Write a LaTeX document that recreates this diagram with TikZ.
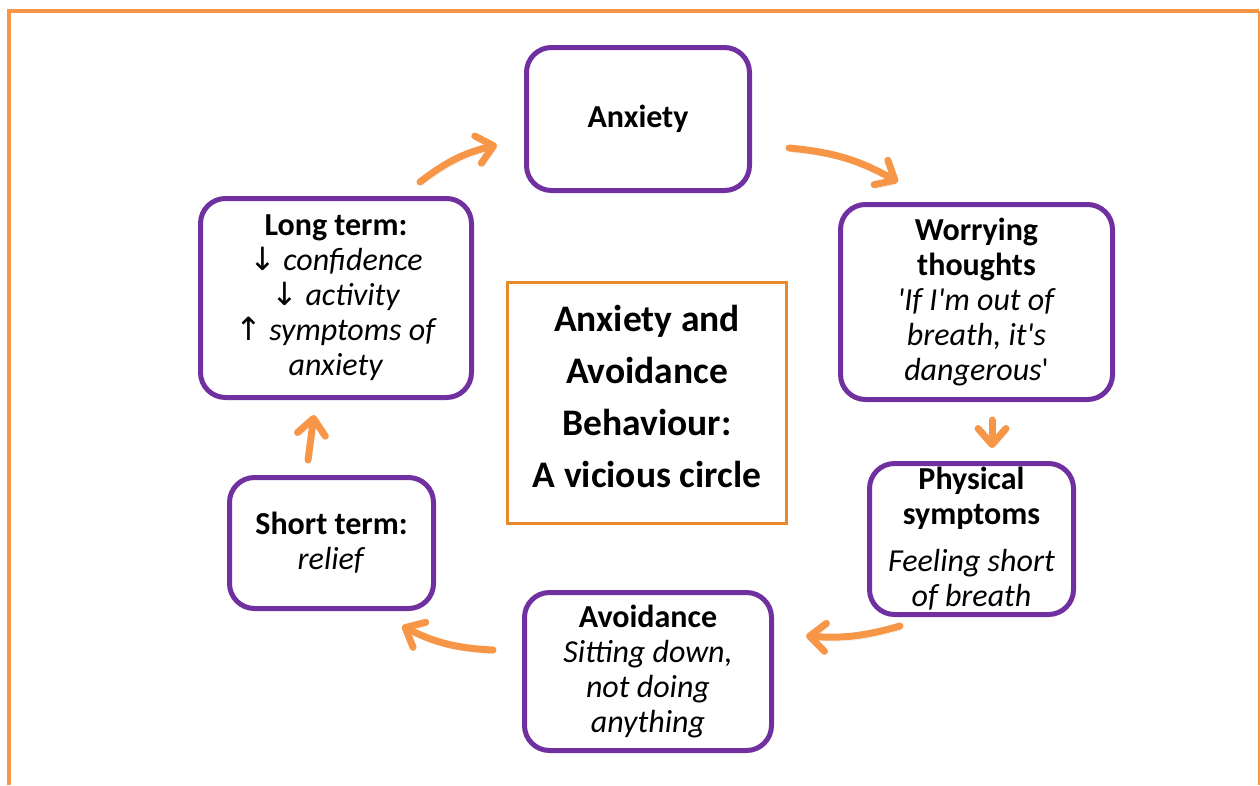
\documentclass[tikz,border=0pt]{standalone}
\usepackage{fontspec}
\setmainfont{Carlito}
\newfontfamily\arrowfont{DejaVu Sans}
\usetikzlibrary{arrows.meta}
\definecolor{frameorange}{HTML}{F79646}
\definecolor{boxorange}{HTML}{E8892C}
\definecolor{boxpurple}{HTML}{7030A0}
\newcommand{\sq}{\textquotesingle}
\begin{document}
\begin{tikzpicture}[x=1pt, y=-1pt,
  stage/.style={draw=boxpurple, line width=5pt, rounded corners=25pt, align=center, inner sep=0pt,
    font=\fontsize{32}{35}\selectfont},
  title/.style={draw=boxorange, line width=3pt, align=center, inner sep=0pt,
    font=\fontsize{37.5}{52}\selectfont\bfseries},
  cyc/.style={draw=frameorange, line width=7pt, line cap=round,
    -{Straight Barb[length=16pt, width=28pt, round]},
    preaction={draw=black!40, opacity=0.25, transform canvas={shift={(2pt,-4pt)}}}}]
\useasboundingbox (0,0) rectangle (1260,785);
%%%%%%%%%%%%%%%%%%%%%%%%%%%%%%% frame
\draw[frameorange, line width=4pt] (9,785) -- (9,11) -- (1259,11);
\draw[frameorange, line width=1.5pt] (1259,11) -- (1259,785);
%%%%%%%%%%%%%%%%%%%%%%%%%%%%%%% the circle
\node[title, minimum width=279pt, minimum height=241pt](ctr) at (647,403){Anxiety and\\Avoidance\\Behaviour:\\A vicious circle\rule[-14pt]{0pt}{14pt}};
\node[stage, minimum width=223pt, minimum height=143pt](anx) at (638,119){\textbf{Anxiety}};
\node[stage, minimum width=272pt, minimum height=195pt](wor) at (976.5,302){\textbf{Worrying}\\\textbf{thoughts}\\\textit{\sq If I\sq m out of}\\\textit{breath, it\sq s}\\\textit{dangerous}\sq};
\node[stage, minimum width=204pt, minimum height=151pt](phy) at (971.5,539){\textbf{Physical}\\\textbf{symptoms}\\[12pt]\textit{Feeling short}\\\textit{of breath}};
\node[stage, minimum width=247pt, minimum height=158pt](avo) at (648,671.5){\textbf{Avoidance}\\\textit{Sitting down,}\\\textit{not doing}\\\textit{anything}};
\node[stage, minimum width=204pt, minimum height=131pt](sht) at (331.5,543){\textbf{Short term:}\\\textit{relief}};
\node[stage, minimum width=271pt, minimum height=199pt](ltm) at (336,298){\textbf{Long term:}\\{\arrowfont↓} \textit{confidence}\\{\arrowfont↓} \textit{activity}\\{\arrowfont↑} \textit{symptoms of}\\\textit{anxiety}};
%%%%%%%%%%%%%%%%%%%%%%%%%%%%%%% arrows
\draw[cyc] ([xshift=-54pt, yshift=14pt]ltm.north east) to[bend left=12] ([xshift=-27pt, yshift=-26pt]anx.west);
\draw[cyc] ([xshift=37pt, yshift=-29pt]anx.east) to[bend left=12] ([xshift=60pt, yshift=20pt]wor.north west);
\draw[cyc] ([xshift=15.5pt, yshift=-18pt]wor.south) -- ([xshift=20.5pt, yshift=13pt]phy.north);
\draw[cyc] ([xshift=33pt, yshift=-9pt]phy.south west) to[bend left=10] ([xshift=32pt, yshift=-46pt]avo.north east);
\draw[cyc] ([xshift=-29pt, yshift=21.5pt]avo.west) to[bend left=12] ([xshift=-34pt, yshift=-15pt]sht.south east);
\draw[cyc] ([xshift=-23.5pt, yshift=15pt]sht.north) -- ([xshift=-22pt, yshift=-15pt]ltm.south);
\end{tikzpicture}
\end{document}
